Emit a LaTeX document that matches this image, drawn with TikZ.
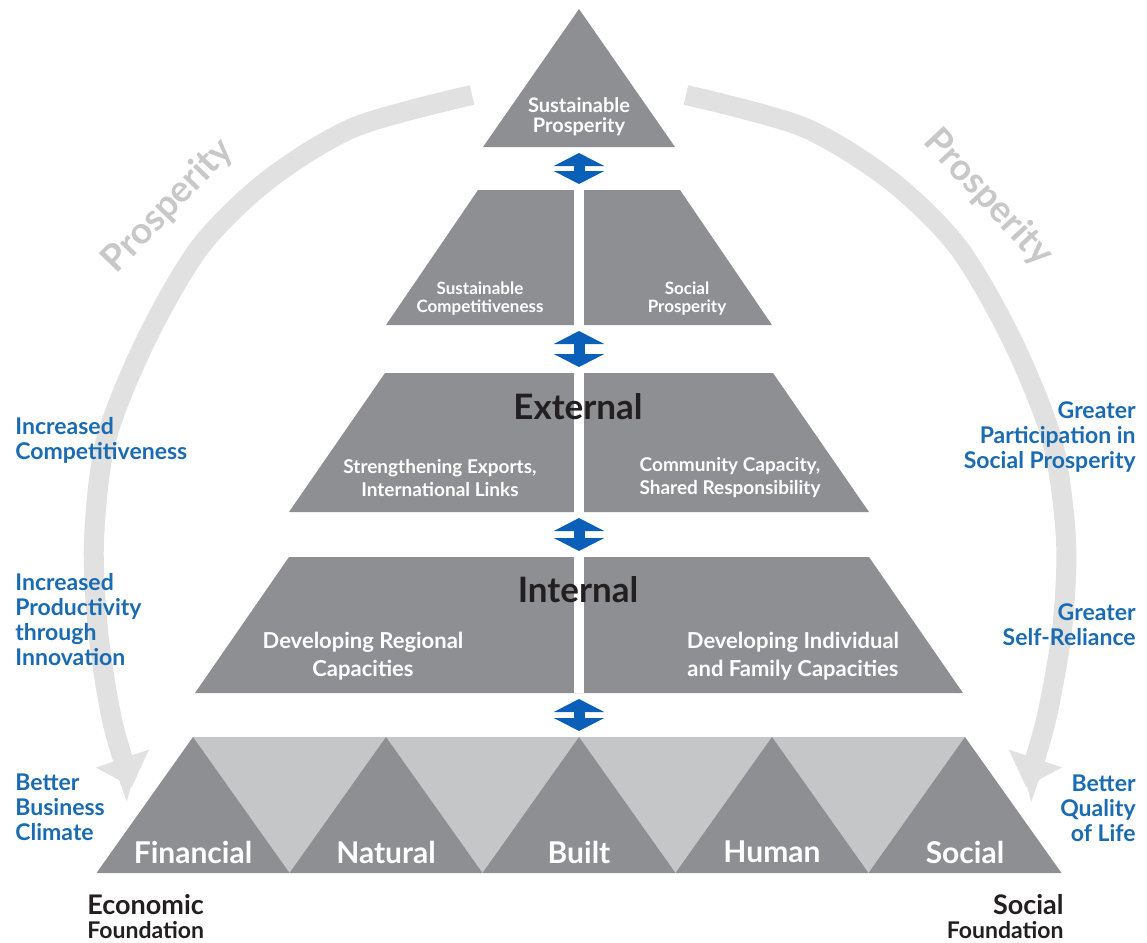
\documentclass[tikz,border=0pt]{standalone}
\usepackage{fontspec}
\setmainfont{Lato}
\usepackage{xcolor}
\usetikzlibrary{arrows.meta,positioning}
\definecolor{tiergray}{HTML}{8D8F92}
\definecolor{basegray}{HTML}{C4C6C8}
\definecolor{arcgray}{HTML}{E1E1E1}
\definecolor{prosgray}{HTML}{C8C8C8}
\definecolor{goalblue}{HTML}{1A6BB2}
\definecolor{linkblue}{HTML}{0A5FB9}
\definecolor{textdark}{HTML}{231F20}
\tikzset{%
  tier/.style={fill=tiergray},
  band/.style={draw=arcgray,line width=10pt,-{Triangle[width=27pt,length=15pt]}},
  link/.style={draw=linkblue,line width=5.5pt,{Triangle[width=25pt,length=6.5pt]}-{Triangle[width=25pt,length=6.5pt]},shorten <=3pt,shorten >=3pt},
  goal/.style={text=goalblue,inner sep=0pt,font=\bfseries\fontsize{11.5}{12.5}\selectfont},
  inlabel/.style={text=white,inner sep=0pt,align=center},
  capital/.style={text=white,inner sep=0pt,font=\bfseries\fontsize{15}{16}\selectfont},
  level/.style={text=textdark,inner sep=0pt,font=\bfseries\fontsize{17.5}{18}\selectfont},
  ghost/.style={text=prosgray,inner sep=0pt,font=\bfseries\fontsize{18.5}{20}\selectfont},
}

\begin{document}
\begin{tikzpicture}[x=0.5pt,y=-0.5pt]
  \useasboundingbox (0,0) rectangle (1147,943);

  % prosperity arcs
  \coordinate (arcL) at (472,95);
  \coordinate (arcR) at (686,95);
  \draw[band] plot[smooth] coordinates {(arcL) (355,127) (268,180) (200,247) (146,340) (106,440) (94,540) (98,630) (112,720) (132,787)};
  \draw[band] plot[smooth] coordinates {(arcR) (803,127) (890,180) (958,247) (1012,340) (1052,440) (1066,540) (1062,630) (1046,720) (1026,787)};
  \node[ghost,rotate=46] (prosL) at (168,206) {Prosperity};
  \node[ghost,rotate=-47] (prosR) at (988,198) {Prosperity};

  % pyramid
  \fill[tier] (579,9) -- (675,147) -- (483,147) -- cycle;
  \fill[tier] (478,190) -- (680,190) -- (772,325) -- (386,325) -- cycle;
  \fill[tier] (385,373) -- (773,373) -- (869,512) -- (289,512) -- cycle;
  \fill[tier] (289,557) -- (869,557) -- (963,693) -- (195,693) -- cycle;
  \draw[white,line width=5pt] (579,190) -- (579,693);

  % capitals
  \fill[basegray] (193,737) rectangle (965,873);
  \foreach \x/\name in {193/Financial,386/Natural,579/Built,772/Human,965/Social}{
    \fill[tier] (\x-96.5,873) -- (\x,737) -- (\x+96.5,873) -- cycle;
    \node[capital] (\name) at (\x,852) {\name};
  }

  % links between levels
  \coordinate (t1b) at (579,147);
  \coordinate (t2t) at (579,190);
  \coordinate (t2b) at (579,325);
  \coordinate (t3t) at (579,373);
  \coordinate (t3b) at (579,512);
  \coordinate (t4t) at (579,557);
  \coordinate (t4b) at (579,693);
  \coordinate (t5t) at (579,737);
  \draw[link] (t1b) -- (t2t);
  \draw[link] (t2b) -- (t3t);
  \draw[link] (t3b) -- (t4t);
  \draw[link] (t4b) -- (t5t);

  % texts in the pyramid
  \node[inlabel,font=\bfseries\fontsize{10}{10}\selectfont] (top) at (579,117) {Sustainable\\Prosperity};
  \node[inlabel,font=\bfseries\fontsize{8.5}{9}\selectfont] (comp) at (480,299) {Sustainable\\Competitiveness};
  \node[inlabel,font=\bfseries\fontsize{8.5}{9}\selectfont] (socp) at (687,299) {Social\\Prosperity};
  \node[level] (external) at (578,407) {External};
  \node[inlabel,font=\bfseries\fontsize{9.5}{11.5}\selectfont] (exports) at (440,478) {Strengthening Exports,\\International Links};
  \node[inlabel,font=\bfseries\fontsize{9.5}{11.5}\selectfont] (community) at (730,478) {Community Capacity,\\Shared Responsibility};
  \node[level] (internal) at (578,590) {Internal};
  \node[inlabel,font=\bfseries\fontsize{11}{14}\selectfont] (regional) at (363,656) {Developing Regional\\Capacities};
  \node[inlabel,font=\bfseries\fontsize{11}{14}\selectfont] (individual) at (793,656) {Developing Individual\\and Family Capacities};

  % outcomes
  \node[goal,align=left,anchor=west] (competitive) at (15,440) {Increased\\Competitiveness};
  \node[goal,align=left,anchor=west] (productive) at (15,620) {Increased\\Productivity\\through\\Innovation};
  \node[goal,align=left,anchor=west] (business) at (15,807) {Better\\Business\\Climate};
  \node[goal,align=right,anchor=east] (participation) at (1136,437) {Greater\\Participation in\\Social Prosperity};
  \node[goal,align=right,anchor=east] (reliance) at (1136,625) {Greater\\Self-Reliance};
  \node[goal,align=right,anchor=east] (quality) at (1136,808) {Better\\Quality\\of Life};

  % foundations
  \node[text=textdark,inner sep=0pt,align=left,anchor=west,font=\bfseries] (economic) at (87,917) {{\fontsize{13.5}{14}\selectfont Economic}\\{\fontsize{11.5}{12}\selectfont Foundation}};
  \node[text=textdark,inner sep=0pt,align=right,anchor=east,font=\bfseries] (social) at (1064,917) {{\fontsize{13.5}{14}\selectfont Social}\\{\fontsize{11.5}{12}\selectfont Foundation}};
\end{tikzpicture}
\end{document}
